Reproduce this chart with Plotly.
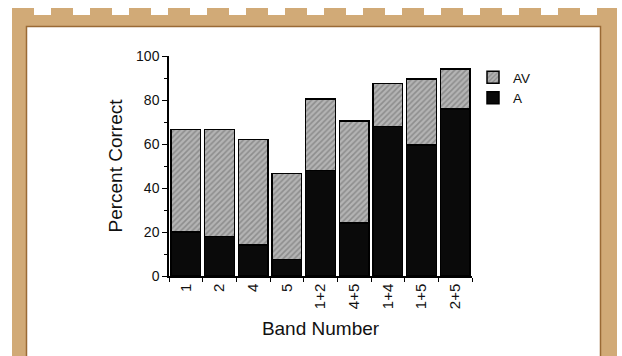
import plotly.graph_objects as go

categories = ["1", "2", "4", "5", "1+2", "4+5", "1+4", "1+5", "2+5"]
a_values = [20, 18, 14, 7.5, 48, 24, 68, 59.5, 76]
av_values = [46.5, 48.5, 48, 39, 32.5, 46.5, 19.5, 30, 18]
y_ticks = [0, 20, 40, 60, 80, 100]

W, H = 622, 356
L, R, T, B = 169, 472, 56, 276  # plot area in pixels

def px(x):
    return (x - L) / (R - L)

def py(y):
    return (B - y) / (B - T)

fig = go.Figure()
fig.add_trace(go.Bar(
    x=categories, y=a_values, name="A",
    marker=dict(color="#0a0a0a", line=dict(color="#000", width=1.5)),
))
fig.add_trace(go.Bar(
    x=categories, y=av_values, name="AV",
    marker=dict(color="#a8a8a8", line=dict(color="#000", width=1.5),
                pattern=dict(shape="/", fgcolor="#666666", bgcolor="#b4b4b4",
                             size=4, solidity=0.4)),
))

shapes = []
tan = "#d1aa77"
brown = "#9a6a35"
# frame
shapes.append(dict(type="rect", xref="paper", yref="paper", layer="below",
                   x0=px(12), x1=px(617), y0=py(370), y1=py(15),
                   fillcolor=tan, line=dict(width=0)))
x = 12
while x < 617:
    shapes.append(dict(type="rect", xref="paper", yref="paper", layer="below",
                       x0=px(x), x1=px(min(x + 22, 617)), y0=py(16), y1=py(8),
                       fillcolor=tan, line=dict(width=0)))
    x += 39
shapes.append(dict(type="rect", xref="paper", yref="paper", layer="below",
                   x0=px(26.5), x1=px(600.5), y0=py(370), y1=py(26.5),
                   fillcolor="white", line=dict(color=brown, width=1.5)))

fig.update_layout(
    width=W, height=H, autosize=False,
    margin=dict(l=L, r=W - R, t=T, b=H - B, pad=0),
    paper_bgcolor="white", plot_bgcolor="rgba(0,0,0,0)",
    barmode="stack", bargap=0.12,
    font=dict(family="Liberation Sans, Arial, sans-serif", color="#111", size=15),
    shapes=shapes,
    showlegend=True,
    legend=dict(x=px(473), y=py(62), xanchor="left", yanchor="top",
                traceorder="reversed", bgcolor="rgba(0,0,0,0)",
                font=dict(size=13.5), itemwidth=30, tracegroupgap=0),
    xaxis=dict(
        range=[-0.5, 8.5], showline=True, linecolor="#000", linewidth=1.5,
        ticks="outside", ticklen=4, tickcolor="#000", tickson="boundaries",
        tickangle=-90, showgrid=False, zeroline=False,
        tickfont=dict(size=15),
        title=dict(text="Band Number", font=dict(size=19), standoff=13),
    ),
    yaxis=dict(
        range=[0, 100], tickvals=y_ticks, showline=True, linecolor="#000",
        linewidth=1.5, ticks="outside", ticklen=5, tickcolor="#000",
        minor=dict(dtick=10, ticks="outside", ticklen=3, tickcolor="#000"),
        showgrid=False, zeroline=False,
        tickfont=dict(size=14),
        title=dict(text="Percent Correct", font=dict(size=19), standoff=8),
    ),
)

fig.write_html("out.html")
